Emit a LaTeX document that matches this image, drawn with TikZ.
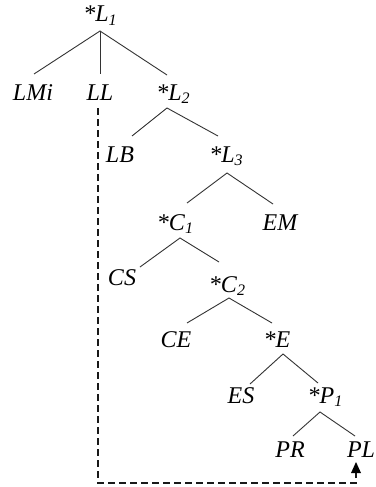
\documentclass[tikz,border=0pt]{standalone}
\usepackage{fontspec}
\setmainfont{Liberation Serif}
\usetikzlibrary{calc}
% small lowered index after a symbol name
\newcommand{\lowidx}[1]{\raisebox{-0.35ex}{\fontsize{16}{16}\selectfont #1}}
\begin{document}
\begin{tikzpicture}[x=1pt,y=-1pt,
  lbl/.style={anchor=base,inner sep=0pt,font=\fontsize{24}{24}\selectfont\itshape,text=black},
  branch/.style={draw=black!80,line width=0.9pt},
  link/.style={draw=black!90,line width=1.1pt,dash pattern=on 7pt off 4pt}]
\useasboundingbox (0,0) rectangle (375,487);
\fill[white] (0,0) rectangle (375,487);

% labels, placed by baseline
\node[lbl] (L1)  at (100,22)  {*L\lowidx{1}};
\node[lbl] (LMi) at (33,100)  {LMi};
\node[lbl] (LL)  at (100,100) {LL};
\node[lbl] (L2)  at (173,100) {*L\lowidx{2}};
\node[lbl] (LB)  at (120,162) {LB};
\node[lbl] (L3)  at (226,162) {*L\lowidx{3}};
\node[lbl] (C1)  at (175,230) {*C\lowidx{1}};
\node[lbl] (EM)  at (280,230) {EM};
\node[lbl] (CS)  at (122,285) {CS};
\node[lbl] (C2)  at (227,292) {*C\lowidx{2}};
\node[lbl] (CE)  at (176,347) {CE};
\node[lbl] (E)   at (277,347) {*E};
\node[lbl] (ES)  at (241,403) {ES};
\node[lbl] (P1)  at (325,403) {*P\lowidx{1}};
\node[lbl] (PR)  at (290,457) {PR};
\node[lbl] (PL)  at (361,457) {PL};

% tree branches
\draw[branch] ($(LMi.base)+(1,-26)$) -- ($(L1.base)+(0,9)$) -- ($(L2.base)+(-6,-25)$);
\draw[branch] ($(L1.base)+(0,9)$) -- ($(LL.base)+(0,-26)$);
\draw[branch] ($(LB.base)+(12,-26)$) -- ($(L2.base)+(-6,8)$) -- ($(L3.base)+(-8,-26)$);
\draw[branch] ($(C1.base)+(12,-27)$) -- ($(L3.base)+(1,11)$) -- ($(EM.base)+(-7,-26)$);
\draw[branch] ($(CS.base)+(18,-18)$) -- ($(C1.base)+(5,8)$) -- ($(C2.base)+(-8,-30)$);
\draw[branch] ($(CE.base)+(11,-24)$) -- ($(C2.base)+(2,6)$) -- ($(E.base)+(-5,-24)$);
\draw[branch] ($(ES.base)+(9,-19)$) -- ($(E.base)+(6,7)$) -- ($(P1.base)+(-7,-20)$);
\draw[branch] ($(PR.base)+(3,-21)$) -- ($(P1.base)+(-5,9)$) -- ($(PL.base)+(-6,-21)$);

% dashed link from LL round to PL, ending in a solid triangle
\coordinate (turnA) at ($(LL.base)+(-2,383)$);
\coordinate (tipPL) at ($(PL.base)+(-5,5)$);
\draw[link] ($(LL.base)+(-2,8)$) -- (turnA) -| ($(tipPL)+(0,11)$);
\fill[black] (tipPL) -- ++(5,11) -- ++(-10,0) -- cycle;
\end{tikzpicture}
\end{document}
